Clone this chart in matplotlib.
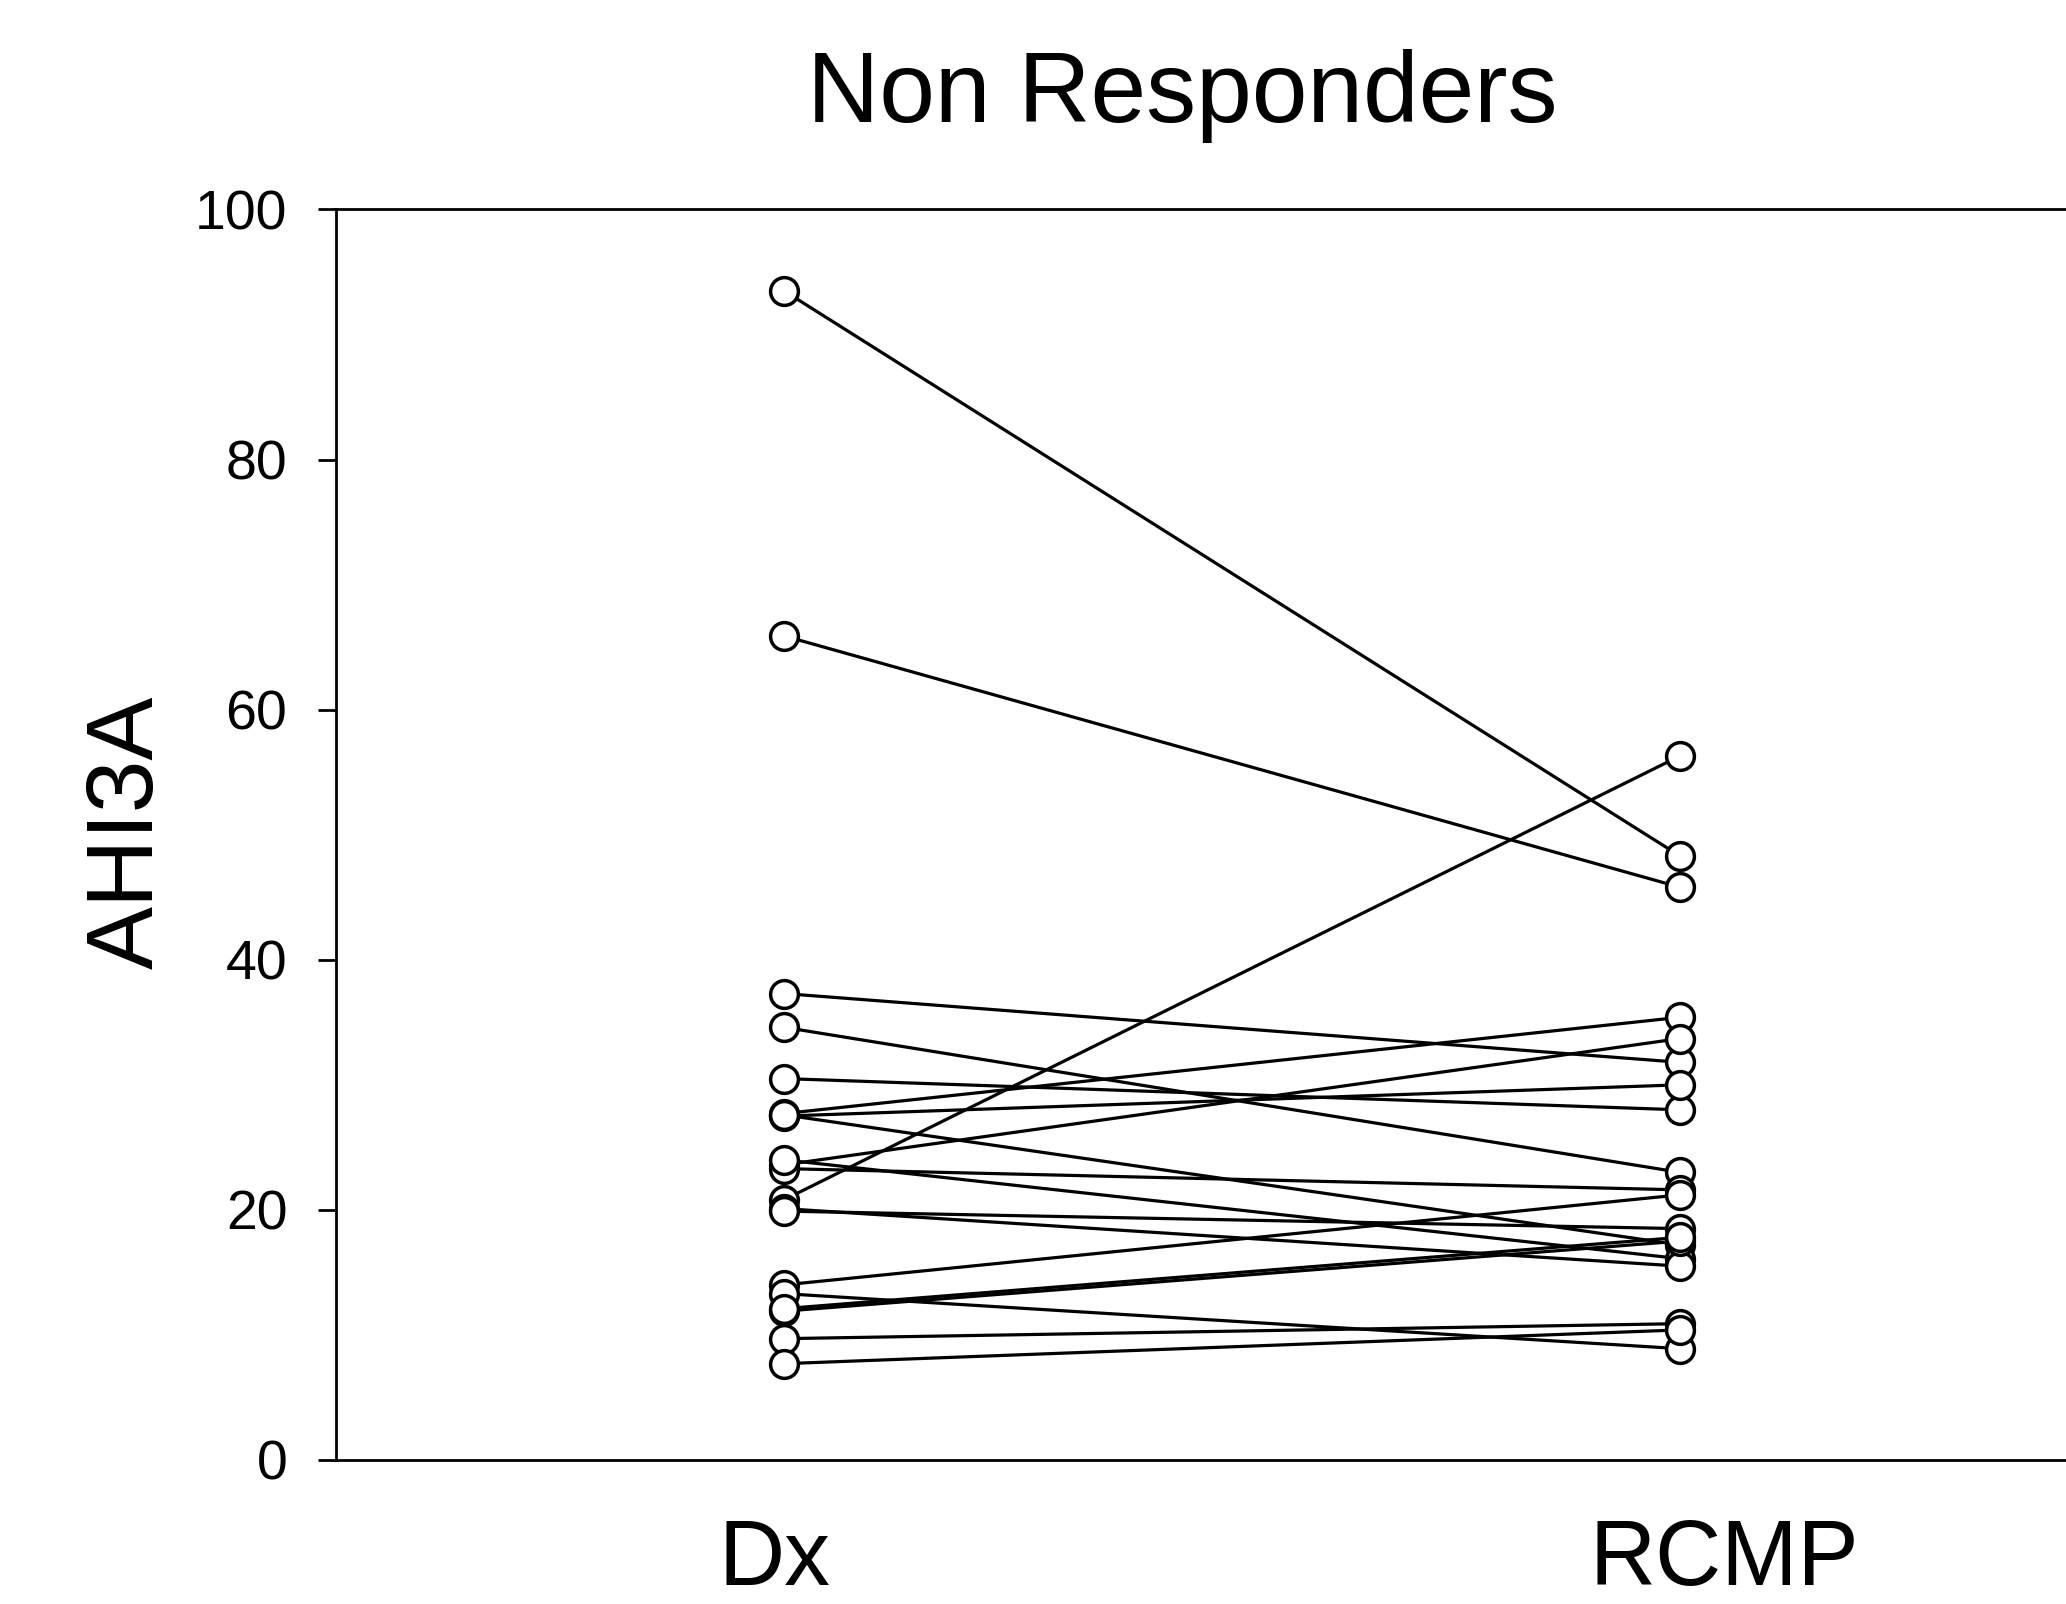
import matplotlib
matplotlib.use("Agg")
import matplotlib.pyplot as plt

# paired AHI3A values: diagnostic (Dx) vs RCMP
groups = ["Dx", "RCMP"]
dx_vals = [93.5, 65.9, 37.3, 34.6, 30.5, 27.7, 27.5, 27.6, 23.6, 23.3,
           24.0, 20.8, 20.1, 19.9, 14.0, 13.3, 11.9, 12.1, 9.7, 7.7]
rcmp_vals = [48.3, 45.8, 31.8, 23.0, 28.0, 35.4, 30.0, 17.2, 33.7, 21.6,
             16.1, 56.3, 15.5, 18.5, 21.2, 8.9, 17.5, 17.8, 10.9, 10.4]
y_ticks = [0, 20, 40, 60, 80, 100]

plt.rcParams['font.family'] = ['Liberation Sans', 'DejaVu Sans']

fig = plt.figure(figsize=(20.66, 16.04), dpi=100)
ax = fig.add_axes([0.1626, 0.0898, 0.8674, 0.7796])

for a, b in zip(dx_vals, rcmp_vals):
    ax.plot([1, 2], [a, b], color='black', lw=2.3, marker='o', ms=20,
            mfc='white', mec='black', mew=2.5, zorder=3)

ax.set_xlim(0.5, 2.5)
ax.set_ylim(0, 100)
ax.set_yticks(y_ticks)
ax.set_xticks([])
ax.tick_params(axis='y', direction='out', length=13, width=2, labelsize=40, pad=22)

# group labels under the axis
for xpos, name in zip([0.99, 2.05], groups):
    ax.text(xpos, -0.081, name, transform=ax.get_xaxis_transform(),
            fontsize=66, ha='center', va='center')

for s in ax.spines.values():
    s.set_linewidth(2)
ax.spines['right'].set_visible(False)

fig.text(0.062, 0.481, "AHI3A", rotation=90, fontsize=68, ha='center', va='center')
fig.text(0.572, 0.94, "Non Responders", fontsize=72, ha='center', va='center')

fig.savefig("out.png", dpi=100)
